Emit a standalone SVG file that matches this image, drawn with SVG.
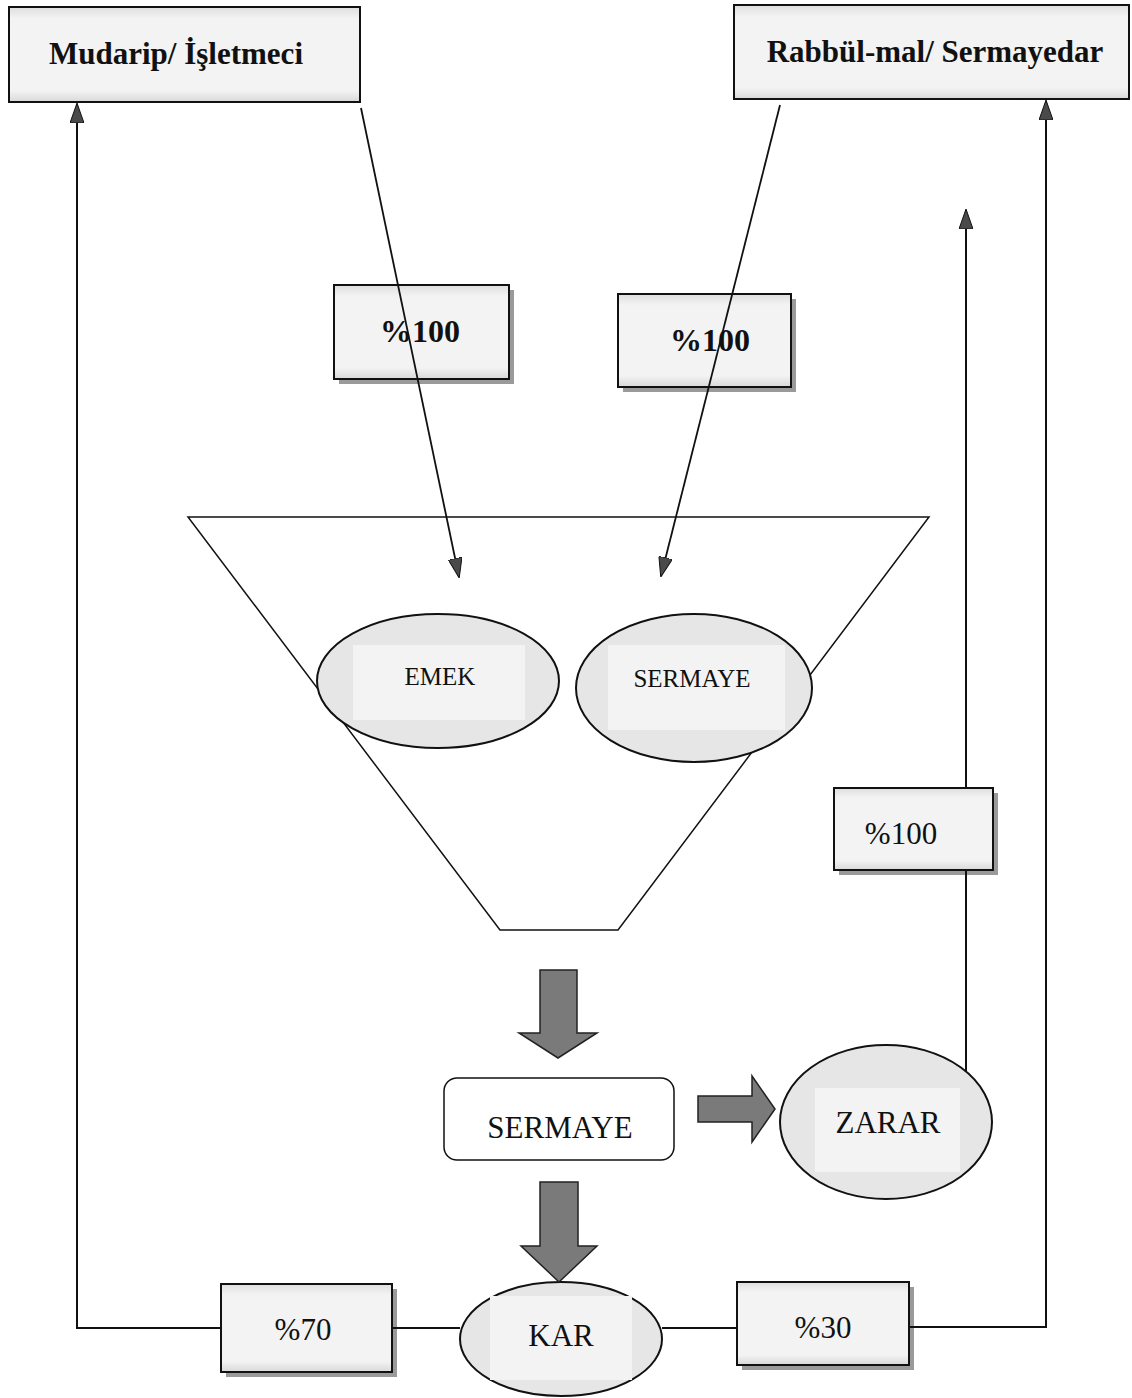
<svg xmlns="http://www.w3.org/2000/svg" width="1132" height="1398" viewBox="0 0 1132 1398">
<style>
.t{font-family:"Liberation Serif","Times New Roman",serif;fill:#111;text-anchor:middle}
.b{font-weight:bold}
.box{fill:url(#tex);stroke:#111;stroke-width:2}
.shadow{fill:#9a9a9a}
.ell{fill:#e6e6e6;stroke:#111;stroke-width:2}
.inner{fill:#f3f3f3}
.ln{fill:none;stroke:#111;stroke-width:2}
.thin{fill:none;stroke:#111;stroke-width:1.8}
.big{fill:#7a7a7a;stroke:#222;stroke-width:1.5}
</style>
<defs>
<linearGradient id="tex" x1="0" y1="0" x2="0" y2="1">
<stop offset="0" stop-color="#dedede"/>
<stop offset="0.12" stop-color="#f3f3f3"/>
<stop offset="0.88" stop-color="#f3f3f3"/>
<stop offset="1" stop-color="#d8d8d8"/>
</linearGradient>
<marker id="ah" markerUnits="userSpaceOnUse" viewBox="0 0 20 14" refX="19" refY="7" markerWidth="20" markerHeight="14" orient="auto">
<path d="M0,0 L20,7 L0,14 z" fill="#4a4a4a" stroke="#111" stroke-width="1"/>
</marker>
</defs>
<rect width="1132" height="1398" fill="#fff"/>

<g id="mudarip">
<rect class="box" x="9" y="7" width="351" height="95"/>
<text class="t b" x="176" y="64" font-size="31">Mudarip/ İşletmeci</text>
</g>
<g id="rabbulmal">
<rect class="box" x="734" y="5" width="395" height="94"/>
<text class="t b" x="935" y="62" font-size="31">Rabbül-mal/ Sermayedar</text>
</g>
<g id="p100-left">
<rect class="shadow" x="339" y="290" width="175" height="94"/>
<rect class="box" x="334" y="285" width="175" height="94"/>
<text class="t b" x="420" y="342" font-size="32">%100</text>
</g>
<g id="p100-right">
<rect class="shadow" x="623" y="299" width="173" height="93"/>
<rect class="box" x="618" y="294" width="173" height="93"/>
<text class="t b" x="710" y="351" font-size="32">%100</text>
</g>
<g id="funnel">
<polygon points="188,517 929,517 618,930 500,930" fill="#fff" stroke="#111" stroke-width="1.5"/>
</g>
<g id="emek">
<ellipse class="ell" cx="438" cy="681" rx="121" ry="67"/>
<rect class="inner" x="353" y="645" width="172" height="75"/>
<text class="t" x="440" y="685" font-size="25">EMEK</text>
</g>
<g id="sermaye-top">
<ellipse class="ell" cx="694" cy="688" rx="118" ry="74"/>
<rect class="inner" x="608" y="645" width="177" height="85"/>
<text class="t" x="692" y="687" font-size="25">SERMAYE</text>
</g>
<g id="sermaye">
<rect x="444" y="1078" width="230" height="82" rx="13" fill="#fff" stroke="#111" stroke-width="1.5"/>
<text class="t" x="560" y="1138" font-size="31">SERMAYE</text>
</g>
<g id="zarar">
<ellipse class="ell" cx="886" cy="1122" rx="106" ry="77"/>
<rect class="inner" x="815" y="1088" width="145" height="84"/>
<text class="t" x="888" y="1133" font-size="31">ZARAR</text>
</g>
<g id="p100-zarar">
<rect class="shadow" x="839" y="793" width="159" height="82"/>
<rect class="box" x="834" y="788" width="159" height="82"/>
<text class="t" x="901" y="844" font-size="31">%100</text>
</g>
<g id="kar">
<ellipse class="ell" cx="561" cy="1339" rx="101" ry="57"/>
<rect class="inner" x="490" y="1296" width="142" height="84"/>
<text class="t" x="561" y="1346" font-size="31">KAR</text>
</g>
<g id="p70">
<rect class="shadow" x="226" y="1289" width="171" height="88"/>
<rect class="box" x="221" y="1284" width="171" height="88"/>
<text class="t" x="303" y="1340" font-size="31">%70</text>
</g>
<g id="p30">
<rect class="shadow" x="742" y="1287" width="172" height="83"/>
<rect class="box" x="737" y="1282" width="172" height="83"/>
<text class="t" x="823" y="1338" font-size="31">%30</text>
</g>

<g id="connectors">
<line class="thin" x1="361" y1="108" x2="459" y2="577" marker-end="url(#ah)"/>
<line class="thin" x1="780" y1="105" x2="661" y2="576" marker-end="url(#ah)"/>
<line class="ln" x1="966" y1="1072" x2="966" y2="870"/>
<line class="ln" x1="966" y1="788" x2="966" y2="210" marker-end="url(#ah)"/>
<polyline class="ln" points="221,1328 77,1328 77,104" marker-end="url(#ah)"/>
<line class="ln" x1="392" y1="1328" x2="460" y2="1328"/>
<line class="ln" x1="662" y1="1328" x2="737" y2="1328"/>
<polyline class="ln" points="909,1327 1046,1327 1046,101" marker-end="url(#ah)"/>
<path class="big" d="M540,970 H577 V1033 H597 L558,1058 L519,1033 H540 Z"/>
<path class="big" d="M540,1182 H578 V1246 H597 L559,1282 L521,1246 H540 Z"/>
<path class="big" d="M698,1096 H752 V1076 L775,1109 L752,1142 V1122 H698 Z"/>
</g>
</svg>
